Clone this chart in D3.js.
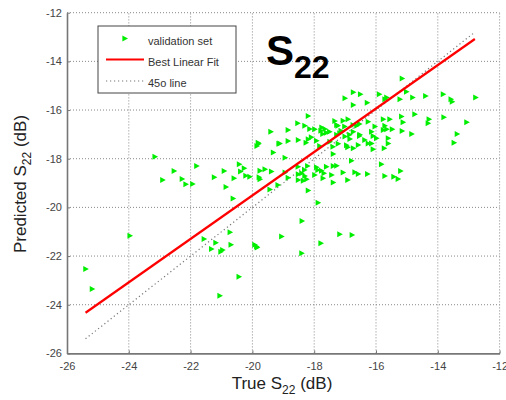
<!DOCTYPE html>
<html>
<head>
<meta charset="utf-8">
<script src="https://cdn.jsdelivr.net/npm/d3@7"></script>
<style>
  body { margin: 0; background: #fff; }
  svg { font-family: "Liberation Sans", Arial, sans-serif; }
</style>
</head>
<body>
<script>
// true vs predicted S22 (dB)
const trueS22 = [
  -25.39, -25.18, -23.96, -23.15, -22.53, -22.90, -22.27, -22.15, -21.93, -21.80,
  -21.23, -20.91, -20.42, -20.26, -20.38, -20.59, -20.21, -20.08, -19.78, -20.85,
  -20.62, -19.85, -21.56, -21.18, -20.72, -21.32, -21.02, -20.96, -20.69, -19.92,
  -19.84, -20.43, -21.05, -17.00, -16.73, -16.50, -16.73, -16.28, -18.19, -18.53,
  -18.30, -18.14, -17.33, -17.06, -16.90, -19.40, -18.84, -18.51, -19.11, -19.81,
  -18.19, -17.92, -17.78, -17.65, -17.60, -17.27, -17.13, -17.27, -17.00, -16.73,
  -16.62, -16.52, -16.36, -16.14, -16.25, -16.84, -19.14, -18.84, -17.49, -17.22,
  -16.95, -16.73, -16.57, -16.25, -16.09, -19.32, -18.94, -17.38, -16.79, -19.75,
  -19.59, -19.38, -18.94, -18.51, -18.40, -18.30, -18.21, -17.92, -17.76, -17.60,
  -17.38, -17.27, -17.06, -16.68, -16.57, -16.27, -17.68, -17.43, -18.51, -18.35,
  -18.24, -18.84, -17.71, -17.38, -19.75, -19.43, -18.19, -17.87, -15.15, -15.89,
  -15.65, -15.71, -15.01, -15.22, -14.81, -14.39, -13.82, -13.57, -13.53, -12.77,
  -14.74, -14.28, -14.31, -13.80, -13.06, -15.76, -15.55, -15.17, -15.12, -16.03,
  -15.71, -15.65, -15.76, -15.15, -14.84, -13.37, -16.09, -15.98, -15.60, -13.47,
  -16.14, -15.60, -15.73, -15.82, -15.20, -15.71, -15.42, -15.28, -18.39, -19.05,
  -19.86, -17.17, -16.77, -17.78, -18.40, -19.79, -19.17, -18.09, -17.50, -17.17,
  -16.85, -16.53, -17.72, -17.98, -17.75, -17.23, -17.01, -16.74, -16.53, -15.47,
  -18.26, -17.82, -17.39, -16.91, -18.52, -18.31, -17.88, -17.98, -16.91
];
const predS22 = [
  -22.53, -23.35, -21.17, -17.92, -18.50, -18.87, -18.83, -19.05, -19.04, -18.30,
  -18.76, -18.50, -18.23, -18.39, -18.53, -18.80, -18.70, -18.74, -18.76, -19.16,
  -19.63, -17.48, -21.30, -21.45, -21.02, -21.71, -21.82, -21.75, -21.54, -21.54,
  -21.65, -22.85, -23.63, -15.52, -15.27, -15.35, -15.79, -15.70, -16.24, -16.54,
  -16.65, -16.78, -16.45, -16.44, -16.38, -16.89, -16.82, -17.23, -17.37, -17.34,
  -17.20, -17.26, -16.85, -16.78, -16.93, -16.61, -16.85, -17.02, -17.09, -16.89,
  -16.65, -17.02, -17.23, -16.89, -16.48, -17.19, -17.39, -17.27, -17.30, -17.39,
  -17.45, -17.57, -17.44, -17.37, -17.61, -17.74, -17.96, -17.81, -18.08, -18.49,
  -18.43, -18.53, -18.57, -18.64, -18.60, -18.71, -18.30, -18.35, -18.49, -18.33,
  -18.30, -18.29, -18.57, -18.56, -18.63, -18.63, -18.60, -18.67, -18.87, -18.91,
  -18.84, -18.78, -18.80, -18.98, -18.84, -19.26, -19.31, -19.81, -14.70, -15.35,
  -15.48, -15.56, -15.25, -15.56, -15.48, -15.42, -15.35, -15.56, -15.66, -15.48,
  -16.17, -16.38, -16.54, -16.30, -16.50, -16.38, -16.38, -16.27, -16.50, -16.68,
  -16.65, -16.79, -16.82, -16.86, -16.98, -16.98, -17.07, -17.16, -17.16, -17.34,
  -17.37, -17.37, -17.57, -18.23, -18.50, -18.71, -18.74, -18.83, -20.56, -21.20,
  -21.61, -21.10, -21.13, -21.47, -21.88, -17.39, -19.08, -17.12, -16.89, -16.95,
  -17.02, -17.07, -16.98, -16.79, -16.72, -16.65, -16.68, -16.61, -16.57, -16.79,
  -17.34, -17.48, -17.51, -17.53, -18.33, -18.46, -18.46, -18.67, -18.87
];

// fitted line and 45 degree reference (end points)
const fitX = [-25.4, -12.8];
const fitY = [-24.33, -13.08];
const refX = [-25.4, -12.8];
const refY = [-25.4, -12.8];

const xTicks = [-26, -24, -22, -20, -18, -16, -14, -12];
const yTicks = [-26, -24, -22, -20, -18, -16, -14, -12];
const legendLabels = ["validation set", "Best Linear Fit", "45o line"];

const width = 506, height = 400;
const svg = d3.select("body").append("svg")
    .attr("width", width)
    .attr("height", height);

const x = d3.scaleLinear().domain([-26, -12]).range([67, 499.6]);
const y = d3.scaleLinear().domain([-26, -12]).range([353.4, 12.7]);

// grid
svg.append("g").selectAll("line")
    .data(xTicks.slice(1))
    .enter().append("line")
    .attr("x1", d => x(d)).attr("x2", d => x(d))
    .attr("y1", y(-26)).attr("y2", y(-12))
    .attr("stroke", "#888").attr("stroke-dasharray", "1,2");
svg.append("g").selectAll("line")
    .data(yTicks.slice(1))
    .enter().append("line")
    .attr("y1", d => y(d)).attr("y2", d => y(d))
    .attr("x1", x(-26)).attr("x2", x(-12))
    .attr("stroke", "#888").attr("stroke-dasharray", "1,2");

// axes
const xAxis = svg.append("g")
    .attr("transform", "translate(0," + y(-26) + ")")
    .call(d3.axisBottom(x).tickValues(xTicks).tickFormat(d => d).tickSize(-3).tickSizeOuter(0).tickPadding(9));
const yAxis = svg.append("g")
    .attr("transform", "translate(" + x(-26) + ",0)")
    .call(d3.axisLeft(y).tickValues(yTicks).tickFormat(d => d).tickSize(-3).tickSizeOuter(0).tickPadding(5));
[xAxis, yAxis].forEach(a => {
    a.select(".domain").attr("stroke", "#777").attr("stroke-width", 1.6);
    a.selectAll(".tick line").attr("stroke", "#777");
    a.selectAll(".tick text").attr("fill", "#444").style("font-size", "11px");
});

// 45 degree line
svg.append("line")
    .attr("x1", x(refX[0])).attr("y1", y(refY[0]))
    .attr("x2", x(refX[1])).attr("y2", y(refY[1]))
    .attr("stroke", "#777").attr("stroke-width", 1.2).attr("stroke-dasharray", "1.2,2.8");

// scatter
const tri = "M-2.6,-3L3,0L-2.6,3Z";
svg.append("g").selectAll("path")
    .data(trueS22.map((d, i) => [d, predS22[i]]))
    .enter().append("path")
    .attr("d", tri)
    .attr("transform", d => "translate(" + x(d[0]) + "," + y(d[1]) + ")")
    .attr("fill", "#00ee00");

// best linear fit
svg.append("line")
    .attr("x1", x(fitX[0])).attr("y1", y(fitY[0]))
    .attr("x2", x(fitX[1])).attr("y2", y(fitY[1]))
    .attr("stroke", "#ff0000").attr("stroke-width", 2.2);

// legend
const legend = svg.append("g");
legend.append("rect")
    .attr("x", 98).attr("y", 26).attr("width", 138).attr("height", 67)
    .attr("fill", "#fff").attr("stroke", "#444").attr("stroke-width", 1);
legend.append("path").attr("d", tri)
    .attr("transform", "translate(125,38.5)").attr("fill", "#00ee00");
legend.append("line")
    .attr("x1", 106).attr("x2", 144).attr("y1", 59.5).attr("y2", 59.5)
    .attr("stroke", "#ff0000").attr("stroke-width", 2.2);
legend.append("line")
    .attr("x1", 106).attr("x2", 144).attr("y1", 81).attr("y2", 81)
    .attr("stroke", "#777").attr("stroke-width", 1.2).attr("stroke-dasharray", "1.2,2.8");
legend.selectAll("text")
    .data(legendLabels)
    .enter().append("text")
    .attr("x", 148)
    .attr("y", (d, i) => 45 + i * 21)
    .attr("fill", "#333")
    .style("font-size", "11px")
    .text(d => d);

// title
const title = svg.append("text")
    .attr("x", 266).attr("y", 65)
    .attr("fill", "#000")
    .style("font-size", "42px").style("font-weight", "bold");
title.append("tspan").text("S");
title.append("tspan").attr("dy", 13).style("font-size", "32px").text("22");

// axis labels
const xl = svg.append("text")
    .attr("x", 282).attr("y", 389)
    .attr("text-anchor", "middle")
    .attr("fill", "#222")
    .style("font-size", "17px");
xl.append("tspan").text("True S");
xl.append("tspan").attr("dy", 5).style("font-size", "12px").text("22");
xl.append("tspan").attr("dy", -5).text(" (dB)");

const yl = svg.append("text")
    .attr("transform", "translate(26,184) rotate(-90)")
    .attr("text-anchor", "middle")
    .attr("fill", "#222")
    .style("font-size", "17px");
yl.append("tspan").text("Predicted S");
yl.append("tspan").attr("dy", 5).style("font-size", "12px").text("22");
yl.append("tspan").attr("dy", -5).text(" (dB)");
</script>
</body>
</html>
